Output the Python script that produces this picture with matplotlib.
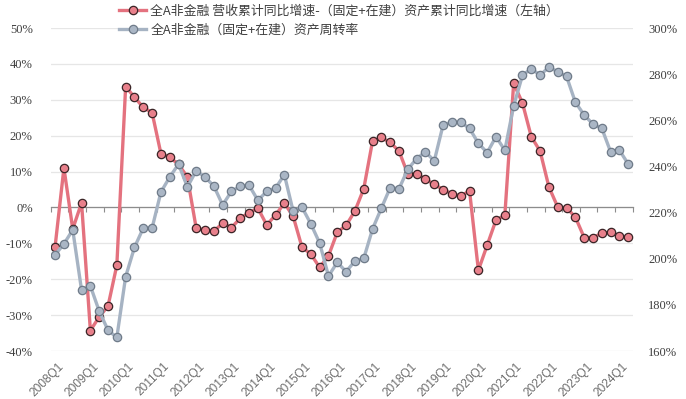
import matplotlib
matplotlib.use("Agg")
import matplotlib.pyplot as plt
import matplotlib.transforms as mtransforms
import numpy as np

# quarters 2008Q1 .. 2024Q2
start_year = 2008
n_quarters = 66
quarters = [f"{start_year + i // 4}Q{i % 4 + 1}" for i in range(n_quarters)]

# 营收累计同比增速 - (固定+在建)资产累计同比增速, %
rev_minus_asset = [
    -10.9, 11.0, -6.0, 1.3, -34.3, -30.5, -27.5, -16.1,
    33.7, 30.7, 27.9, 26.4, 15.0, 14.0, 12.0, 8.5,
    -5.8, -6.3, -6.6, -4.4, -5.6, -3.0, -1.5, -0.2,
    -4.9, -2.1, 1.2, -2.5, -11.1, -13.0, -16.7, -13.5,
    -6.9, -5.0, -1.0, 5.2, 18.5, 19.5, 18.1, 15.7,
    9.3, 9.3, 7.9, 6.4, 5.0, 3.8, 3.2, 4.6,
    -17.5, -10.5, -3.5, -2.2, 34.6, 29.1, 19.7, 15.7,
    5.7, 0.1, -0.1, -2.7, -8.4, -8.4, -7.2, -6.9,
    -7.9, -8.3,
]

# (固定+在建)资产周转率, %
asset_turnover = [
    201.7, 206.4, 212.5, 186.4, 188.2, 177.3, 169.0, 165.9,
    192.2, 204.9, 213.3, 213.3, 228.9, 235.4, 241.0, 231.1,
    238.1, 235.4, 231.5, 223.3, 229.2, 231.4, 231.8, 225.3,
    229.2, 230.6, 236.4, 220.5, 222.3, 215.1, 206.8, 192.5,
    198.4, 194.4, 199.0, 200.1, 212.9, 221.9, 230.8, 230.3,
    238.8, 243.4, 246.3, 242.4, 258.0, 259.1, 259.1, 256.5,
    250.0, 246.0, 252.9, 247.0, 266.2, 279.5, 282.4, 279.5,
    283.1, 281.0, 279.0, 267.8, 262.3, 258.3, 256.5, 246.3,
    247.0, 241.0,
]

label_red = "全A非金融 营收累计同比增速-（固定+在建）资产累计同比增速（左轴）"
label_blue = "全A非金融（固定+在建）资产周转率"

RED_LINE = "#E4727F"
RED_FACE = "#E8808B"
RED_EDGE = "#3a2426"
BLUE_LINE = "#A6B3C3"
BLUE_FACE = "#AAB6C5"
BLUE_EDGE = "#6f7b89"
TEXT = "#404040"
NUM_FONT = ["Liberation Serif", "DejaVu Serif"]
CJK_FONT = ["Noto Sans CJK SC", "DejaVu Sans"]

plt.rcParams["font.family"] = CJK_FONT

fig = plt.figure(figsize=(6.86, 3.99), dpi=100)
ax = fig.add_axes([0.0739, 0.1203, 0.8484, 0.8095])
ax2 = ax.twinx()

x = np.arange(n_quarters)
l1, = ax.plot(x, rev_minus_asset, color=RED_LINE, lw=2.4, marker="o", ms=6.0,
              mfc=RED_FACE, mec=RED_EDGE, mew=0.9, label=label_red, zorder=3)
l2, = ax2.plot(x, asset_turnover, color=BLUE_LINE, lw=2.4, marker="o", ms=6.0,
               mfc=BLUE_FACE, mec=BLUE_EDGE, mew=0.9, label=label_blue, zorder=3)

ax.set_xlim(-0.5, n_quarters - 0.5)
ax.set_ylim(-40, 50)
ax2.set_ylim(160, 300)

left_ticks = np.arange(-40, 51, 10)
ax.set_yticks(left_ticks)
ax.set_yticklabels([f"{v}%" for v in left_ticks], fontfamily=NUM_FONT, fontsize=9, color=TEXT)
right_ticks = np.arange(160, 301, 20)
ax2.set_yticks(right_ticks)
ax2.set_yticklabels([f"{v}%" for v in right_ticks], fontfamily=NUM_FONT, fontsize=9, color=TEXT)
ax.tick_params(axis="y", length=0, pad=13)
ax2.tick_params(axis="y", length=0, pad=11)

ax.grid(axis="y", color="#e6e6e6", lw=0.9)
ax.set_axisbelow(True)

for a in (ax, ax2):
    for s in ("top", "left", "right", "bottom"):
        a.spines[s].set_visible(False)
ax.spines["bottom"].set_visible(True)
ax.spines["bottom"].set_position(("data", 0))
ax.spines["bottom"].set_color("#8c8c8c")
ax.spines["bottom"].set_linewidth(0.9)
ax.set_xticks(np.arange(-0.5, n_quarters, 2))
ax.set_xticklabels([])
ax.tick_params(axis="x", direction="out", length=3.5, color="#8c8c8c", width=0.8)

trans = mtransforms.blended_transform_factory(ax.transData, ax.transAxes)
for i in range(0, n_quarters, 4):
    ax.text(i + 0.3, -0.03, quarters[i], transform=trans, rotation=45,
            ha="right", va="top", rotation_mode="anchor", fontsize=8.6,
            color="#6e6e6e", fontfamily=["Liberation Sans", "DejaVu Sans"])

leg = fig.legend([l1, l2], [label_red, label_blue], loc="upper left",
                 bbox_to_anchor=(0.172, 0.992), bbox_transform=fig.transFigure,
                 frameon=True, framealpha=1, facecolor="white", edgecolor="none",
                 fontsize=9.3, handlelength=2.1, handletextpad=0.3, labelspacing=0.45,
                 borderpad=0.1, borderaxespad=0)
for t in leg.get_texts():
    t.set_color(TEXT)

fig.savefig("out.png", dpi=100)
